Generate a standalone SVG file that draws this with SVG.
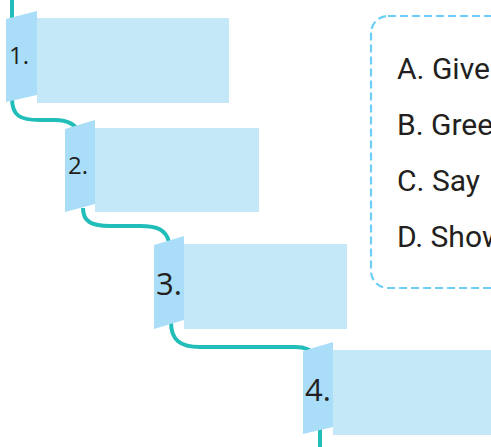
<svg xmlns="http://www.w3.org/2000/svg" width="491" height="447" viewBox="0 0 491 447">
  <style>
    .card { fill: #c5e8f9; }
    .flap { fill: #a9ddf8; }
    .num { font-family: "Open Sans", "Noto Sans", sans-serif; fill: #231f20; }
    .opt { font-family: Roboto, "Liberation Sans", sans-serif; font-size: 30px; fill: #231f20; }
    .path { fill: none; stroke: #21bdb9; stroke-width: 4; stroke-linecap: butt; }
  </style>
  <rect width="491" height="447" fill="#ffffff"/>

  <!-- options box, running off the right edge -->
  <g id="options">
    <rect x="371" y="16" width="150" height="272" rx="17" fill="none" stroke="#6ccef5" stroke-width="2.2" stroke-dasharray="8 4"/>
    <text class="opt" x="397" y="79">A. Give</text>
    <text class="opt" x="397" y="135">B. Gree</text>
    <text class="opt" x="397" y="191">C. Say</text>
    <text class="opt" x="397" y="247">D. Show</text>
  </g>

  <!-- winding path linking the steps -->
  <g id="connectors">
    <path class="path" d="M12,0 L12,20"/>
    <path class="path" d="M12,98 C12,116 20,120 40,120 L55,120 C68,120 76,124 80,134"/>
    <path class="path" d="M83,208 C83,222 92,226 110,226 L140,226 C158,226 166,230 169,242"/>
    <path class="path" d="M171,322 C171,340 180,347 200,347 L295,347 C306,347 312,350 316,356"/>
    <path class="path" d="M320,428 L320,447"/>
  </g>

  <g id="step1">
    <rect class="card" x="37" y="18" width="192" height="85"/>
    <polygon class="flap" points="6,19 37,11 37,95 6,102"/>
    <text class="num" x="9" y="64" font-size="24">1.</text>
  </g>

  <g id="step2">
    <rect class="card" x="95" y="128" width="164" height="84"/>
    <polygon class="flap" points="65,129 95,120 95,204 65,212"/>
    <text class="num" x="68" y="174" font-size="24">2.</text>
  </g>

  <g id="step3">
    <rect class="card" x="184" y="244" width="163" height="85"/>
    <polygon class="flap" points="154,245 184,236 184,320 154,329"/>
    <text class="num" x="156" y="295" font-size="31">3.</text>
  </g>

  <g id="step4">
    <rect class="card" x="333" y="350" width="160" height="85"/>
    <polygon class="flap" points="303,351 333,342 333,427 303,434"/>
    <text class="num" x="305" y="401" font-size="31">4.</text>
  </g>
</svg>
